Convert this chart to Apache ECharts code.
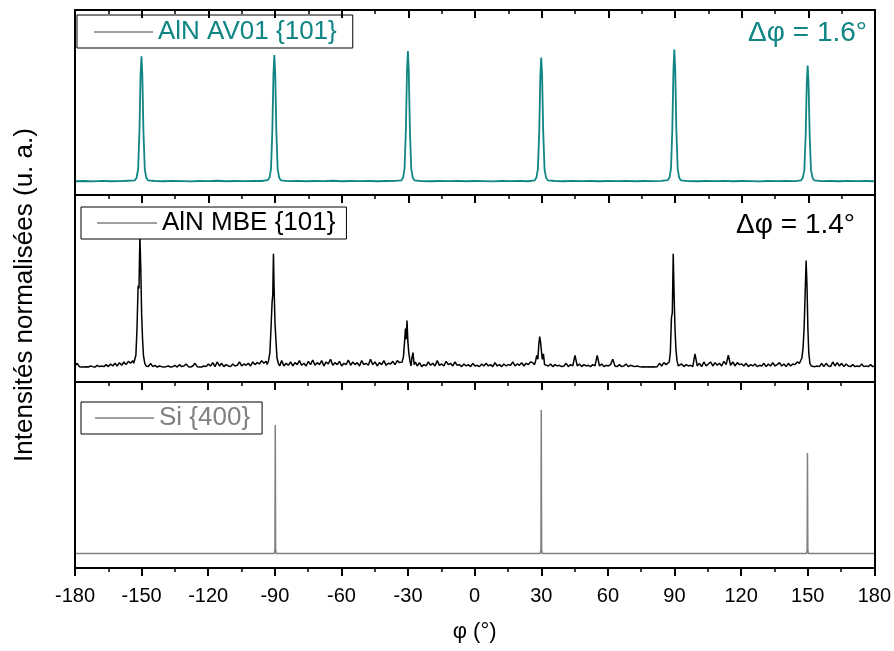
<!DOCTYPE html>
<html><head><meta charset="utf-8">
<script src="https://cdn.jsdelivr.net/npm/echarts@6/dist/echarts.min.js"></script>
<style>html,body{margin:0;padding:0;background:#fff}#c{width:894px;height:651px}</style>
</head><body><div id="c"></div>
<script>
// ---------- data ----------
const xMin = -180, xMax = 180, xStep = 30;
const seriesNames = ['AlN AV01 {101}', 'AlN MBE {101}', 'Si {400}'];
const fwhmLabels = ['Δφ = 1.6°', 'Δφ = 1.4°'];
const yTitle = 'Intensités normalisées (u. a.)';
const xTitle = 'φ (°)';

// AlN AV01 {101} : [phi, intensity]
const av01 = [
[-180,0.004],[-176,0.006],[-172,0.003],[-168,0.007],[-164,0.004],[-160,0.005],[-156,0.008],
[-153.1,0.01],[-152.3,0.03],[-151.6,0.095],[-151.0,0.38],[-150.5,0.81],[-150.1,0.95],[-149.7,0.81],[-149.2,0.38],[-148.6,0.095],[-147.9,0.03],[-147.1,0.01],
[-144,0.006],[-140,0.004],[-136,0.007],[-132,0.005],[-128,0.003],[-124,0.006],[-120,0.005],[-116,0.008],[-112,0.004],[-108,0.006],[-104,0.005],[-100,0.007],[-96,0.006],
[-93.3,0.012],[-92.5,0.03],[-91.8,0.096],[-91.2,0.384],[-90.7,0.816],[-90.3,0.96],[-89.9,0.816],[-89.4,0.384],[-88.8,0.096],[-88.1,0.03],[-87.3,0.01],
[-84,0.005],[-80,0.007],[-76,0.004],[-72,0.006],[-68,0.005],[-64,0.008],[-60,0.004],[-56,0.006],[-52,0.005],[-48,0.007],[-44,0.004],[-40,0.006],[-36,0.007],
[-33.2,0.01],[-32.4,0.03],[-31.7,0.099],[-31.1,0.396],[-30.6,0.84],[-30.2,0.99],[-29.8,0.84],[-29.3,0.396],[-28.7,0.099],[-28.0,0.03],[-27.2,0.01],
[-24,0.005],[-20,0.004],[-16,0.006],[-12,0.005],[-8,0.007],[-4,0.004],[0,0.006],[4,0.005],[8,0.003],[12,0.006],[16,0.005],[20,0.007],[24,0.004],
[26.8,0.01],[27.6,0.03],[28.3,0.094],[28.9,0.376],[29.4,0.8],[29.8,0.94],[30.2,0.8],[30.7,0.376],[31.3,0.094],[32.0,0.03],[32.8,0.01],
[36,0.006],[40,0.004],[44,0.007],[48,0.005],[52,0.006],[56,0.004],[60,0.006],[64,0.005],[68,0.007],[72,0.004],[76,0.006],[80,0.005],[84,0.007],
[86.7,0.012],[87.5,0.03],[88.2,0.1],[88.8,0.4],[89.3,0.85],[89.7,1.0],[90.1,0.85],[90.6,0.4],[91.2,0.1],[91.9,0.03],[92.7,0.01],
[96,0.005],[100,0.004],[104,0.006],[108,0.005],[112,0.007],[116,0.004],[120,0.006],[124,0.005],[128,0.003],[132,0.006],[136,0.005],[140,0.007],[144,0.005],
[146.7,0.01],[147.5,0.03],[148.2,0.088],[148.8,0.352],[149.3,0.748],[149.7,0.88],[150.1,0.748],[150.6,0.352],[151.2,0.088],[151.9,0.03],[152.7,0.01],
[156,0.005],[160,0.006],[164,0.004],[168,0.007],[172,0.005],[176,0.006],[180,0.004]
];

// AlN MBE {101} : [phi, intensity]
const mbe = [
[-180,0.02],[-179,0.04],[-178,0.015],[-177,0.012],[-176,0.012],[-175,0.015],[-174,0.012],[-173,0.02],[-172,0.015],[-171,0.012],[-170,0.025],[-169,0.015],[-168,0.02],[-167,0.015],[-166,0.03],[-165,0.015],[-164,0.035],[-163,0.02],[-162,0.04],[-161,0.02],[-160,0.045],[-159,0.025],[-158,0.05],[-157,0.03],[-156,0.055],[-155,0.04],[-154,0.06],
[-153.6,0.04],[-153.1,0.07],[-152.6,0.1],[-152.1,0.3],[-151.6,0.62],[-151.2,0.6],[-150.8,1.0],[-150.4,0.75],[-150.0,0.4],[-149.6,0.22],[-149.2,0.1],[-148.6,0.04],[-148.0,0.02],
[-147,0.015],[-146,0.04],[-145,0.015],[-144,0.025],[-143,0.012],[-142,0.02],[-141,0.015],[-140,0.012],[-139,0.015],[-138,0.02],[-137,0.012],[-136,0.015],[-135,0.025],[-134,0.012],[-133,0.03],[-132,0.015],[-131,0.02],[-130,0.035],[-129,0.015],[-128,0.012],[-127,0.02],[-126,0.04],[-125,0.015],[-124,0.012],[-123,0.012],[-122,0.02],[-121,0.015],[-120,0.035],[-119,0.02],[-118,0.045],[-117,0.015],[-116,0.05],[-115,0.02],[-114,0.04],[-113,0.015],[-112,0.03],[-111,0.02],[-110,0.015],[-109,0.035],[-108,0.02],[-107,0.025],[-106,0.05],[-105,0.02],[-104,0.035],[-103,0.025],[-102,0.04],[-101,0.02],[-100,0.05],[-99,0.03],[-98,0.045],[-97,0.035],[-96,0.06],[-95,0.04],[-94,0.055],
[-93.5,0.03],[-92.9,0.06],[-92.3,0.12],[-91.8,0.3],[-91.3,0.5],[-91.0,0.55],[-90.7,0.86],[-90.4,0.6],[-90.0,0.34],[-89.6,0.22],[-89.1,0.08],[-88.5,0.04],[-87.9,0.02],
[-87,0.06],[-86,0.02],[-85,0.04],[-84,0.025],[-83,0.05],[-82,0.02],[-81,0.045],[-80,0.03],[-79,0.06],[-78,0.025],[-77,0.04],[-76,0.02],[-75,0.055],[-74,0.03],[-73,0.065],[-72,0.025],[-71,0.045],[-70,0.03],[-69,0.06],[-68,0.02],[-67,0.05],[-66,0.035],[-65,0.07],[-64,0.025],[-63,0.045],[-62,0.03],[-61,0.055],[-60,0.02],[-59,0.04],[-58,0.03],[-57,0.065],[-56,0.025],[-55,0.05],[-54,0.03],[-53,0.045],[-52,0.02],[-51,0.06],[-50,0.03],[-49,0.04],[-48,0.025],[-47,0.07],[-46,0.03],[-45,0.05],[-44,0.02],[-43,0.045],[-42,0.03],[-41,0.06],[-40,0.025],[-39,0.04],[-38,0.035],[-37,0.055],[-36,0.03],[-35,0.06],[-34,0.045],
[-33.5,0.04],[-32.8,0.05],[-32.2,0.09],[-31.7,0.2],[-31.3,0.3],[-31.0,0.22],[-30.6,0.36],[-30.2,0.2],[-29.8,0.12],[-29.3,0.06],[-28.8,0.02],[-28.4,0.08],[-27.9,0.12],[-27.4,0.03],[-26.8,0.05],
[-26,0.02],[-25,0.045],[-24,0.015],[-23,0.03],[-22,0.02],[-21,0.05],[-20,0.025],[-19,0.04],[-18,0.02],[-17,0.06],[-16,0.025],[-15,0.035],[-14,0.02],[-13,0.055],[-12,0.03],[-11,0.04],[-10,0.02],[-9,0.05],[-8,0.025],[-7,0.03],[-6,0.015],[-5,0.035],[-4,0.02],[-3,0.03],[-2,0.015],[-1,0.04],[0,0.02],[1,0.025],[2,0.015],[3,0.035],[4,0.02],[5,0.04],[6,0.02],[7,0.03],[8,0.015],[9,0.045],[10,0.02],[11,0.03],[12,0.015],[13,0.035],[14,0.02],[15,0.03],[16,0.025],[17,0.05],[18,0.02],[19,0.035],[20,0.025],[21,0.045],[22,0.02],[23,0.04],[24,0.03],[25,0.05],[26,0.045],
[26.8,0.03],[27.3,0.06],[27.8,0.1],[28.3,0.07],[28.7,0.18],[29.1,0.24],[29.5,0.2],[29.9,0.13],[30.3,0.07],[30.8,0.11],[31.3,0.03],[31.9,0.04],
[32,0.04],[33,0.02],[34,0.035],[35,0.015],[36,0.03],[37,0.02],[38,0.025],[39,0.015],[40,0.02],[41,0.04],[42,0.015],[43,0.03],[44,0.02],[45,0.1],[46,0.02],[47,0.035],[48,0.015],[49,0.03],[50,0.02],[51,0.025],[52,0.015],[53,0.03],[54,0.02],[55,0.1],[56,0.02],[57,0.035],[58,0.015],[59,0.025],[60,0.02],[61,0.03],[62,0.07],[63,0.02],[64,0.015],[65,0.03],[66,0.015],[67,0.02],[68,0.035],[69,0.015],[70,0.025],[71,0.02],[72,0.015],[73,0.02],[74,0.015],[75,0.012],[76,0.015],[77,0.012],[78,0.015],[79,0.012],[80,0.015],[81,0.012],[82,0.015],[83,0.04],[84,0.02],[85,0.045],[86,0.03],
[86.8,0.02],[87.4,0.05],[87.9,0.12],[88.4,0.38],[88.8,0.42],[89.2,0.86],[89.6,0.55],[90.0,0.3],[90.4,0.15],[90.9,0.06],[91.5,0.02],
[92,0.02],[93,0.035],[94,0.015],[95,0.03],[96,0.02],[97,0.025],[98,0.015],[99,0.11],[100,0.02],[101,0.04],[102,0.015],[103,0.05],[104,0.02],[105,0.035],[106,0.05],[107,0.02],[108,0.045],[109,0.025],[110,0.04],[111,0.02],[112,0.055],[113,0.03],[114,0.1],[115,0.025],[116,0.05],[117,0.02],[118,0.045],[119,0.03],[120,0.035],[121,0.02],[122,0.04],[123,0.015],[124,0.03],[125,0.02],[126,0.035],[127,0.015],[128,0.025],[129,0.02],[130,0.04],[131,0.015],[132,0.035],[133,0.02],[134,0.045],[135,0.02],[136,0.03],[137,0.045],[138,0.02],[139,0.035],[140,0.015],[141,0.04],[142,0.02],[143,0.035],[144,0.03],[145,0.05],[146,0.04],
[146.5,0.03],[147.1,0.08],[147.6,0.15],[148.1,0.3],[148.6,0.58],[149.0,0.81],[149.4,0.62],[149.8,0.3],[150.2,0.12],[150.7,0.04],[151.3,0.02],
[152,0.03],[153,0.015],[154,0.02],[155,0.015],[156,0.04],[157,0.015],[158,0.04],[159,0.02],[160,0.015],[161,0.05],[162,0.02],[163,0.045],[164,0.02],[165,0.04],[166,0.015],[167,0.035],[168,0.02],[169,0.015],[170,0.03],[171,0.015],[172,0.02],[173,0.015],[174,0.035],[175,0.015],[176,0.02],[177,0.015],[178,0.03],[179,0.015],[180,0.02]
];

// Si {400} : [phi, intensity]
const si = [
[-180,0.01],[-120,0.01],
[-90.2,0.01],[-89.95,0.04],[-89.8,0.976],[-89.65,0.04],[-89.4,0.01],
[0,0.01],
[29.6,0.01],[29.85,0.04],[30.0,1.09],[30.15,0.04],[30.4,0.01],
[90,0.01],
[149.5,0.01],[149.75,0.04],[149.9,0.766],[150.05,0.04],[150.3,0.01],
[180,0.01]
];

// ---------- style ----------
const FONT = '"Liberation Sans", Arial, Helvetica, sans-serif';
const TEAL = '#0f8584';
const BLACK = '#000000';
const GRAY = '#808080';
const colors = [TEAL, BLACK, GRAY];

const gridBoxes = [
  {left: 75, width: 800, top: 10, height: 185},
  {left: 75, width: 800, top: 195, height: 187},
  {left: 75, width: 800, top: 382, height: 186}
];

function topAxis(i) {
  return {
    type: 'value', gridIndex: i, position: 'top', min: xMin, max: xMax, interval: xStep, z: 12,
    axisLine: {show: true, onZero: false, lineStyle: {color: '#000', width: 2}},
    axisTick: {show: true, inside: true, length: 8, lineStyle: {color: '#000', width: 2}},
    minorTick: {show: true, splitNumber: 2, length: 4, lineStyle: {color: '#000', width: 1.5}},
    axisLabel: {show: false}, splitLine: {show: false}, minorSplitLine: {show: false}
  };
}
const xAxes = [topAxis(0), topAxis(1), topAxis(2), {
  type: 'value', gridIndex: 2, position: 'bottom', min: xMin, max: xMax, interval: xStep, z: 12,
  axisLine: {show: true, onZero: false, lineStyle: {color: '#000', width: 2}},
  axisTick: {show: true, inside: false, length: 8, lineStyle: {color: '#000', width: 2}},
  minorTick: {show: true, splitNumber: 2, length: 4, lineStyle: {color: '#000', width: 1.5}},
  axisLabel: {show: true, color: '#000', fontSize: 20, fontFamily: FONT, margin: 18, showMinLabel: true, showMaxLabel: true},
  splitLine: {show: false}, minorSplitLine: {show: false},
  name: xTitle, nameLocation: 'middle', nameGap: 53,
  nameTextStyle: {color: '#000', fontSize: 22, fontFamily: FONT}
}];
function yAx(i, pos) {
  return {
    type: 'value', gridIndex: i, position: pos, min: -0.1, max: 1.3, z: 12,
    axisLine: {show: true, onZero: false, lineStyle: {color: '#000', width: 2}},
    axisTick: {show: false}, axisLabel: {show: false},
    splitLine: {show: false}, minorSplitLine: {show: false}
  };
}
const yAxes = [yAx(0, 'left'), yAx(1, 'left'), yAx(2, 'left'), yAx(0, 'right'), yAx(1, 'right'), yAx(2, 'right')];

const legendBoxes = [
  {left: 77, top: 15, padding: [4, 16, 3, 17], itemWidth: 59},
  {left: 81, top: 207, padding: [3, 11, 3, 16], itemWidth: 60},
  {left: 81, top: 402, padding: [3, 12, 3, 14], itemWidth: 59}
];
const legends = seriesNames.map((n, i) => ({
  left: legendBoxes[i].left, top: legendBoxes[i].top, padding: legendBoxes[i].padding,
  itemWidth: legendBoxes[i].itemWidth, itemHeight: 1.5, itemGap: 0,
  icon: 'rect',
  borderColor: '#000', borderWidth: 1, backgroundColor: '#fff', selectedMode: false,
  textStyle: {color: colors[i], fontSize: 26, fontFamily: FONT},
  itemStyle: {color: GRAY},
  data: [{name: n}], z: 10
}));

const data = [av01, mbe, si];
const widths = [1.8, 1.5, 1.5];
const axisIdx = [0, 1, 3];
const series = seriesNames.map((n, i) => ({
  type: 'line', name: n, xAxisIndex: axisIdx[i], yAxisIndex: i, data: data[i],
  symbol: 'none', showSymbol: false, animation: false,
  lineStyle: {color: colors[i], width: widths[i]}, itemStyle: {color: colors[i]}
}));

const chart = echarts.init(document.getElementById('c'), null, {renderer: 'canvas'});
chart.setOption({
  animation: false,
  backgroundColor: '#fff',
  grid: gridBoxes.map(g => Object.assign({show: false}, g)),
  xAxis: xAxes,
  yAxis: yAxes,
  legend: legends,
  series: series,
  graphic: [
    {type: 'text', right: 27, top: 19, z: 20,
     style: {text: fwhmLabels[0], font: '28px ' + FONT, fill: TEAL}},
    {type: 'text', right: 39, top: 211, z: 20,
     style: {text: fwhmLabels[1], font: '28px ' + FONT, fill: BLACK}},
    {type: 'text', x: 25, y: 295, rotation: Math.PI / 2, z: 20,
     style: {text: yTitle, font: '26px ' + FONT, fill: '#000', align: 'center', verticalAlign: 'middle'}}
  ]
});
</script>
</body></html>
